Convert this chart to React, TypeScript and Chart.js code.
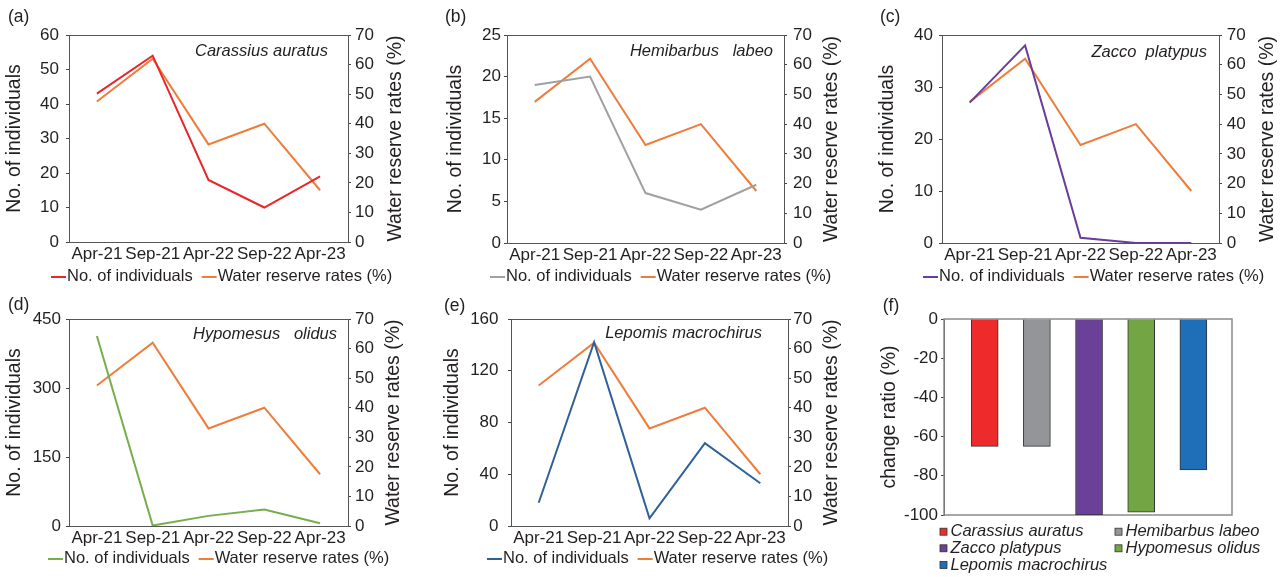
import React, { useEffect, useRef } from 'react';
import { Chart, registerables } from 'chart.js';

Chart.register(...registerables);

// ---------------- data ----------------
const months = ['Apr-21', 'Sep-21', 'Apr-22', 'Sep-22', 'Apr-23'];
const waterReserveRates = [47.5, 62, 33, 40, 17.5];
const carassiusAuratus = [43, 54, 18, 10, 19];
const hemibarbusLabeo = [19, 20, 6, 4, 7];
const zaccoPlatypus = [27, 38, 1, 0, 0];
const hypomesusOlidus = [413, 1, 22, 36, 6];
const lepomisMacrochirus = [18, 142, 6, 64, 33];
const speciesNames = ['Carassius auratus', 'Hemibarbus labeo', 'Zacco platypus', 'Hypomesus olidus', 'Lepomis macrochirus'];
const insetNames = ['Carassius auratus', 'Hemibarbus   labeo', 'Zacco  platypus', 'Hypomesus   olidus', 'Lepomis macrochirus'];
const panelTags = ['(a)', '(b)', '(c)', '(d)', '(e)', '(f)'];
const leftAxisMax = [60, 25, 40, 450, 160];
const leftAxisStep = [10, 5, 10, 150, 40];
const rightAxisMax = 70;
const rightAxisStep = 10;
const changeRatio = [-65, -65, -100, -98.5, -77];
const changeAxisMin = -100;
const changeAxisMax = 0;
const changeAxisStep = 20;
const countSeries = [carassiusAuratus, hemibarbusLabeo, zaccoPlatypus, hypomesusOlidus, lepomisMacrochirus];

// ---------------- styles ----------------
const FONT = '"Liberation Sans", Arial, Helvetica, sans-serif';
const TEXT = '#231f20';
const AXIS = '#444444';
const FRAME = '#555555';
const ORANGE = '#ee7d3b';
const lineColors = ['#e8262b', '#a0a0a2', '#6a3d9a', '#76ad4d', '#2f6198'];
const barColors = ['#ee2b2b', '#939598', '#6a4098', '#73a544', '#1e6fb8'];

type LineLayout = {
  x0: number; y0: number; w: number; h: number;
  plotL: number; plotR: number; plotT: number; plotB: number;
  yPad: number; y1Pad: number; leftTitleX: number; rightTitleX: number;
  tagX: number; tagY: number; insetRight: number; insetDy: number;
  legendX: number; legendY: number;
};

const lineLayouts: LineLayout[] = [
  { x0: 0, y0: 0, w: 425, h: 285, plotL: 69, plotR: 348, plotT: 35, plotB: 242, yPad: 7, y1Pad: 4, leftTitleX: 15, rightTitleX: 396, tagX: 8, tagY: 17, insetRight: 20, insetDy: 16, legendX: 51, legendY: 276.5 },
  { x0: 430, y0: 0, w: 425, h: 285, plotL: 507, plotR: 784, plotT: 35, plotB: 243, yPad: 3, y1Pad: 6, leftTitleX: 456, rightTitleX: 831.5, tagX: 445, tagY: 17, insetRight: 11, insetDy: 16.7, legendX: 490, legendY: 276.5 },
  { x0: 860, y0: 0, w: 423, h: 285, plotL: 942, plotR: 1219, plotT: 35, plotB: 243, yPad: 6, y1Pad: 4.7, leftTitleX: 887.5, rightTitleX: 1267.5, tagX: 880, tagY: 17, insetRight: 12, insetDy: 17.7, legendX: 923, legendY: 276.5 },
  { x0: 0, y0: 285, w: 425, h: 292, plotL: 69, plotR: 348, plotT: 319, plotB: 526, yPad: 5, y1Pad: 4, leftTitleX: 15, rightTitleX: 394, tagX: 8, tagY: 305, insetRight: 11, insetDy: 15, legendX: 48, legendY: 558.5 },
  { x0: 430, y0: 285, w: 425, h: 292, plotL: 511, plotR: 788, plotT: 319, plotB: 526, yPad: 9.5, y1Pad: 2.3, leftTitleX: 453, rightTitleX: 831.5, tagX: 444, tagY: 306, insetRight: 26, insetDy: 14, legendX: 487, legendY: 558.5 },
];

const barLayout = {
  x0: 860, y0: 285, w: 423, h: 292, plotL: 944, plotR: 1232, plotT: 319, plotB: 515,
  yPad: 3, leftTitleX: 889.5, tagX: 882.7, tagY: 306,
  legendCols: [940, 1115], legendRows: [531.7, 548.3, 565], box: 7, textGap: 10.5,
  xMin: -0.78, xMax: 4.74, barThickness: 27,
};

const X_AXIS_H = 22;
const TICK_SIZE = 17;
const TITLE_SIZE = 19.5;
const LEGEND_SIZE = 16.5;

function vTitle(ctx: CanvasRenderingContext2D, text: string, x: number, y: number) {
  ctx.save();
  ctx.translate(x, y);
  ctx.rotate(-Math.PI / 2);
  ctx.textAlign = 'center';
  ctx.textBaseline = 'middle';
  ctx.fillStyle = TEXT;
  ctx.font = `${TITLE_SIZE}px ${FONT}`;
  ctx.fillText(text, 0, 0);
  ctx.restore();
}

function LinePanel({ idx }: { idx: number }) {
  const ref = useRef<HTMLCanvasElement | null>(null);
  const L = lineLayouts[idx];
  useEffect(() => {
    if (!ref.current) return;
    const decor = {
      id: 'decor' + idx,
      beforeDatasetsDraw(chart: any) {
        const { ctx, chartArea: ca } = chart;
        ctx.save();
        ctx.strokeStyle = FRAME;
        ctx.lineWidth = 1;
        ctx.strokeRect(Math.round(ca.left) + 0.5, Math.round(ca.top) + 0.5, Math.round(ca.right - ca.left), Math.round(ca.bottom - ca.top));
        ctx.restore();
      },
      afterDraw(chart: any) {
        const { ctx, chartArea: ca } = chart;
        ctx.save();
        ctx.fillStyle = TEXT;
        ctx.textBaseline = 'middle';
        ctx.font = `17.5px ${FONT}`;
        ctx.textAlign = 'left';
        ctx.fillText(panelTags[idx], L.tagX - L.x0, L.tagY - L.y0);
        ctx.font = `italic ${LEGEND_SIZE}px ${FONT}`;
        ctx.textAlign = 'right';
        ctx.fillText(insetNames[idx], ca.right - L.insetRight, ca.top + L.insetDy);
        ctx.restore();
        const cy = (ca.top + ca.bottom) / 2;
        vTitle(ctx, 'No. of individuals', L.leftTitleX - L.x0, cy);
        vTitle(ctx, 'Water reserve rates (%)', L.rightTitleX - L.x0, cy);
        ctx.save();
        ctx.font = `${LEGEND_SIZE}px ${FONT}`;
        ctx.textAlign = 'left';
        ctx.textBaseline = 'middle';
        let x = L.legendX - L.x0;
        const y = L.legendY - L.y0;
        chart.data.datasets.forEach((ds: any) => {
          ctx.strokeStyle = ds.borderColor;
          ctx.lineWidth = 2;
          ctx.beginPath();
          ctx.moveTo(x, y + 0.5);
          ctx.lineTo(x + 15, y + 0.5);
          ctx.stroke();
          ctx.fillStyle = TEXT;
          ctx.fillText(ds.label, x + 16, y);
          x += 16 + ctx.measureText(ds.label).width + 9;
        });
        ctx.restore();
      },
    };
    const tickFont = { family: FONT, size: TICK_SIZE };
    const chart = new Chart(ref.current, {
      type: 'line',
      data: {
        labels: months,
        datasets: [
          { label: 'No. of individuals', data: countSeries[idx], borderColor: lineColors[idx], backgroundColor: lineColors[idx], borderWidth: 2, pointRadius: 0, yAxisID: 'y', tension: 0 },
          { label: 'Water reserve rates (%)', data: waterReserveRates, borderColor: ORANGE, backgroundColor: ORANGE, borderWidth: 2, pointRadius: 0, yAxisID: 'y1', tension: 0 },
        ],
      },
      options: {
        responsive: false,
        animation: false,
        layout: { padding: { left: 0, right: 0, top: L.plotT - L.y0, bottom: L.y0 + L.h - L.plotB - X_AXIS_H } },
        plugins: { legend: { display: false }, tooltip: { enabled: false }, title: { display: false } },
        scales: {
          x: {
            type: 'category', offset: true,
            grid: { display: false, drawTicks: false },
            border: { display: true, color: AXIS, width: 1 },
            ticks: { font: tickFont, color: TEXT, padding: 2, maxRotation: 0, minRotation: 0, autoSkip: false },
            afterFit: (s: any) => { s.height = X_AXIS_H; },
          },
          y: {
            position: 'left', min: 0, max: leftAxisMax[idx],
            ticks: { stepSize: leftAxisStep[idx], font: tickFont, color: TEXT, padding: L.yPad },
            grid: { drawOnChartArea: false, drawTicks: true, tickLength: 3, color: AXIS },
            border: { display: true, color: AXIS, width: 1 },
            afterFit: (s: any) => { s.width = L.plotL - L.x0; },
          },
          y1: {
            position: 'right', min: 0, max: rightAxisMax,
            ticks: { stepSize: rightAxisStep, font: tickFont, color: TEXT, padding: L.y1Pad },
            grid: { drawOnChartArea: false, drawTicks: true, tickLength: 3, color: AXIS },
            border: { display: true, color: AXIS, width: 1 },
            afterFit: (s: any) => { s.width = L.x0 + L.w - L.plotR; },
          },
        },
      } as any,
      plugins: [decor],
    });
    return () => chart.destroy();
  }, []);
  return (
    <canvas
      ref={ref}
      width={L.w}
      height={L.h}
      style={{ position: 'absolute', left: L.x0, top: L.y0, width: L.w, height: L.h }}
    />
  );
}

function BarPanel() {
  const ref = useRef<HTMLCanvasElement | null>(null);
  const B = barLayout;
  useEffect(() => {
    if (!ref.current) return;
    const decor = {
      id: 'decorBar',
      beforeDatasetsDraw(chart: any) {
        const { ctx, chartArea: ca } = chart;
        ctx.save();
        ctx.strokeStyle = '#8a8a8a';
        ctx.lineWidth = 1.5;
        ctx.strokeRect(Math.round(ca.left), Math.round(ca.top), Math.round(ca.right - ca.left), Math.round(ca.bottom - ca.top));
        ctx.restore();
      },
      afterDraw(chart: any) {
        const { ctx, chartArea: ca } = chart;
        ctx.save();
        ctx.fillStyle = TEXT;
        ctx.textBaseline = 'middle';
        ctx.textAlign = 'left';
        ctx.font = `17.5px ${FONT}`;
        ctx.fillText(panelTags[5], B.tagX - B.x0, B.tagY - B.y0);
        ctx.restore();
        vTitle(ctx, 'change ratio (%)', B.leftTitleX - B.x0, (ca.top + ca.bottom) / 2);
        ctx.save();
        ctx.font = `italic ${LEGEND_SIZE}px ${FONT}`;
        ctx.textAlign = 'left';
        ctx.textBaseline = 'middle';
        const colors = chart.data.datasets[0].backgroundColor as string[];
        speciesNames.forEach((name, i) => {
          const col = i % 2;
          const row = Math.floor(i / 2);
          const bx = B.legendCols[col] - B.x0;
          const by = B.legendRows[row] - B.y0;
          ctx.fillStyle = colors[i];
          ctx.fillRect(bx, by - B.box / 2, B.box, B.box);
          ctx.strokeStyle = '#333';
          ctx.lineWidth = 0.8;
          ctx.strokeRect(bx, by - B.box / 2, B.box, B.box);
          ctx.fillStyle = TEXT;
          ctx.fillText(name, bx + B.textGap, by);
        });
        ctx.restore();
      },
    };
    const tickFont = { family: FONT, size: TICK_SIZE };
    const chart = new Chart(ref.current, {
      type: 'bar',
      data: {
        datasets: [
          {
            label: 'change ratio (%)',
            data: changeRatio.map((v, i) => ({ x: i, y: v })),
            backgroundColor: barColors,
            borderColor: '#333333',
            borderWidth: 1,
            barThickness: B.barThickness,
          },
        ],
      },
      options: {
        responsive: false,
        animation: false,
        layout: { padding: { left: 0, right: B.x0 + B.w - B.plotR, top: B.plotT - B.y0, bottom: B.y0 + B.h - B.plotB } },
        plugins: { legend: { display: false }, tooltip: { enabled: false }, title: { display: false } },
        scales: {
          x: { type: 'linear', display: false, min: B.xMin, max: B.xMax, offset: false },
          y: {
            position: 'left', min: changeAxisMin, max: changeAxisMax,
            ticks: { stepSize: changeAxisStep, font: tickFont, color: TEXT, padding: B.yPad },
            grid: { drawOnChartArea: false, drawTicks: true, tickLength: 3, color: AXIS },
            border: { display: true, color: AXIS, width: 1 },
            afterFit: (s: any) => { s.width = B.plotL - B.x0; },
          },
        },
      } as any,
      plugins: [decor],
    });
    return () => chart.destroy();
  }, []);
  return (
    <canvas
      ref={ref}
      width={B.w}
      height={B.h}
      style={{ position: 'absolute', left: B.x0, top: B.y0, width: B.w, height: B.h }}
    />
  );
}

export default function App() {
  return (
    <div style={{ position: 'absolute', left: 0, top: 0, width: 1283, height: 577, overflow: 'hidden', background: '#ffffff' }}>
      {lineLayouts.map((_, i) => (
        <LinePanel key={i} idx={i} />
      ))}
      <BarPanel />
    </div>
  );
}
